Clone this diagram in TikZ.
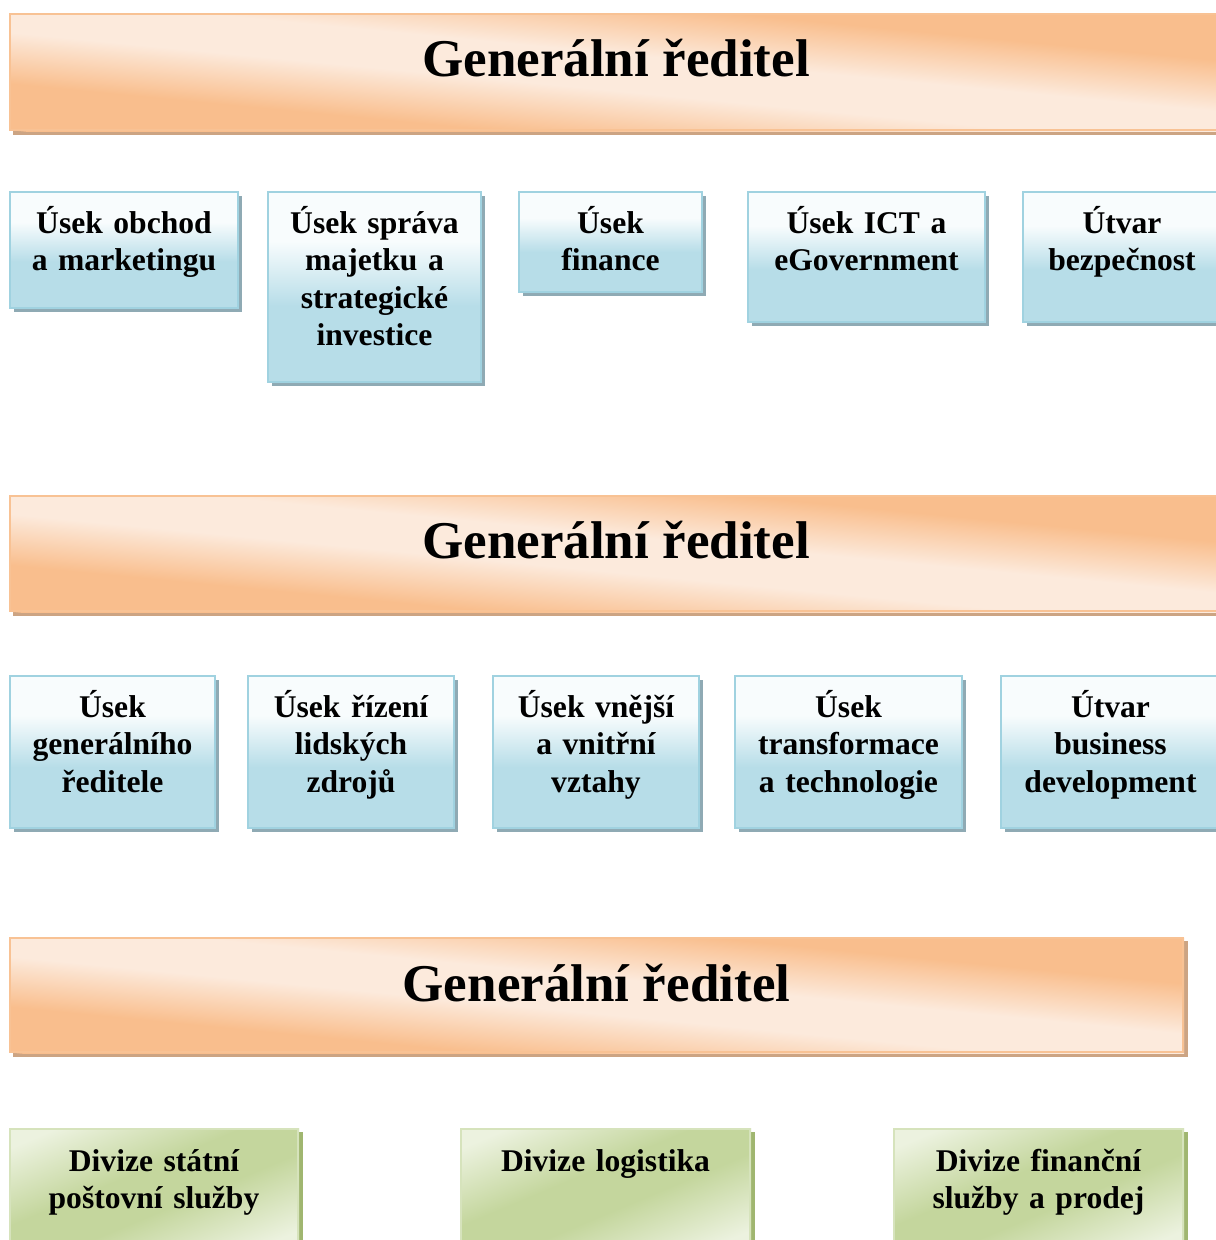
\documentclass[tikz,border=0pt]{standalone}
\usepackage{fontspec}
\setmainfont{Liberation Serif}
\usetikzlibrary{fit,backgrounds}
\definecolor{orD}{RGB}{249,190,141}
\definecolor{orL}{RGB}{252,234,220}
\definecolor{orB}{RGB}{248,194,148}
\definecolor{orS}{RGB}{204,164,131}
\definecolor{blD}{RGB}{183,221,232}
\definecolor{blL}{RGB}{248,252,253}
\definecolor{blB}{RGB}{160,210,224}
\definecolor{blS}{RGB}{143,170,180}
\definecolor{grD}{RGB}{196,214,157}
\definecolor{grL}{RGB}{236,242,223}
\definecolor{grB}{RGB}{214,227,188}
\definecolor{grS}{RGB}{160,182,112}
\pgfdeclareverticalshading{orsh}{100bp}{color(0bp)=(orD); color(35bp)=(orD); color(46bp)=(orL); color(54bp)=(orL); color(65bp)=(orD); color(100bp)=(orD)}
\pgfdeclareverticalshading{blsh}{100bp}{color(0bp)=(blD); color(45bp)=(blD); color(62bp)=(blL); color(100bp)=(blL)}
\pgfdeclareverticalshading{grsh}{100bp}{color(0bp)=(grL); color(29bp)=(grL); color(45bp)=(grD); color(55bp)=(grD); color(71bp)=(grL); color(100bp)=(grL)}
\tikzset{
  hdr/.style={rectangle, inner sep=0pt, line width=1.5pt, draw=orB},
  greenbox/.style={rectangle, inner sep=0pt, line width=1.5pt, draw=grB},
  bluebox/.style={rectangle, inner sep=0pt, line width=1.5pt, shade, shading=blsh, draw=blB,
    preaction={fill=blS, transform canvas={xshift=3pt,yshift=-3pt}}},
  txt/.style={font=\bfseries\fontsize{23.7pt}{28.2pt}\selectfont, align=center,
    anchor=base, inner sep=0pt, text width=220pt},
  htxt/.style={font=\bfseries\fontsize{39.8pt}{46pt}\selectfont, anchor=base, inner sep=0pt}
}
% #1 node, #2 shadow colour, #3 shading, #4 angle, #5 half height (px)
\newcommand\diagfill[5]{%
  \begin{scope}[on background layer]
    \fill[#2] ([shift={(4,4)}]#1.north west) rectangle ([shift={(4,4)}]#1.south east);
    \begin{scope}
      \clip (#1.north west) rectangle (#1.south east);
      \shade[shading=#3, transform canvas={rotate around={#4:(#1.center)}}]
        ([shift={(-800,-#5)}]#1.center) rectangle ([shift={(800,#5)}]#1.center);
    \end{scope}
  \end{scope}}
\begin{document}
\begin{tikzpicture}[x=0.75pt,y=-0.75pt]
\useasboundingbox (0,0) rectangle (1216,1240);
\clip (0,0) rectangle (1216,1240);
% headers
\node[hdr, fit={(10,14)(1222,130)}] (h1) {};
\diagfill{h1}{orS}{orsh}{-5.5}{116}
\node[htxt] (h1t) at (616,76) {Generální ředitel};
\node[hdr, fit={(10,496)(1222,611)}] (h2) {};
\diagfill{h2}{orS}{orsh}{-5.5}{116}
\node[htxt] (h2t) at (616,558) {Generální ředitel};
\node[hdr, fit={(10,938)(1183,1052)}] (h3) {};
\diagfill{h3}{orS}{orsh}{-5.55}{114}
\node[htxt] (h3t) at (596.5,1001) {Generální ředitel};
% row 1
\node[bluebox, fit={(10,192)(238,308)}] (b1) {};
\node[txt] (b1t) at (124,233) {Úsek obchod\\a marketingu};
\node[bluebox, fit={(268,192)(481,382)}] (b2) {};
\node[txt] (b2t) at (374.5,233) {Úsek správa\\majetku a\\strategické\\investice};
\node[bluebox, fit={(519,192)(702,292)}] (b3) {};
\node[txt] (b3t) at (610.5,233) {Úsek\\finance};
\node[bluebox, fit={(748,192)(985,322)}] (b4) {};
\node[txt] (b4t) at (866.5,233) {Úsek ICT a\\eGovernment};
\node[bluebox, fit={(1023,192)(1221,322)}] (b5) {};
\node[txt] (b5t) at (1122,233) {Útvar\\bezpečnost};
% row 2
\node[bluebox, fit={(10,676)(215,828)}] (c1) {};
\node[txt] (c1t) at (112.5,717) {Úsek\\generálního\\ředitele};
\node[bluebox, fit={(248,676)(454,828)}] (c2) {};
\node[txt] (c2t) at (351,717) {Úsek řízení\\lidských\\zdrojů};
\node[bluebox, fit={(493,676)(699,828)}] (c3) {};
\node[txt] (c3t) at (596,717) {Úsek vnější\\a vnitřní\\vztahy};
\node[bluebox, fit={(735,676)(962,828)}] (c4) {};
\node[txt] (c4t) at (848.5,717) {Úsek\\transformace\\a technologie};
\node[bluebox, fit={(1001,676)(1220,828)}] (c5) {};
\node[txt] (c5t) at (1110.5,717) {Útvar\\business\\development};
% divisions
\node[greenbox, fit={(10,1129)(298,1250)}] (g1) {};
\diagfill{g1}{grS}{grsh}{22.8}{112}
\node[txt] (g1t) at (154,1171) {Divize státní\\poštovní služby};
\node[greenbox, fit={(461,1129)(750,1250)}] (g2) {};
\diagfill{g2}{grS}{grsh}{22.8}{112}
\node[txt] (g2t) at (605.5,1171) {Divize logistika};
\node[greenbox, fit={(894,1129)(1183,1250)}] (g3) {};
\diagfill{g3}{grS}{grsh}{22.8}{112}
\node[txt] (g3t) at (1038.5,1171) {Divize finanční\\služby a prodej};
\end{tikzpicture}
\end{document}
